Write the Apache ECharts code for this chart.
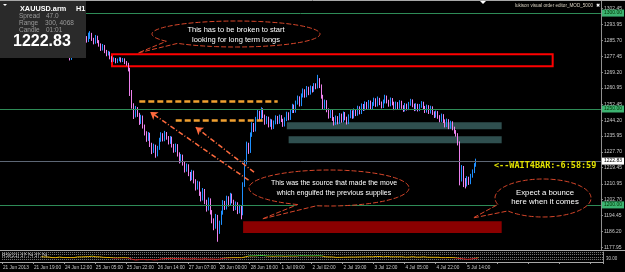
<!DOCTYPE html>
<html>
<head>
<meta charset="utf-8">
<script src="https://cdn.jsdelivr.net/npm/echarts@6/dist/echarts.min.js"></script>
<style>
html,body{margin:0;padding:0;background:#000;}
#main{width:625px;height:272px;}
</style>
</head>
<body>
<div id="main"></div>
<script>
// XAUUSD H1, 21 Jun - 5 Jul 2013
var timeLabels = ['21 Jun 2013','21 Jun 19:00','24 Jun 12:00','25 Jun 05:00','25 Jun 22:00','26 Jun 14:00','27 Jun 07:00','28 Jun 00:00',
    '28 Jun 16:00','1 Jul 09:00','2 Jul 02:00','2 Jul 19:00','3 Jul 12:00','4 Jul 05:00','4 Jul 22:00','5 Jul 14:00'];
var priceTicks = [1302.45,1293.95,1285.70,1277.45,1269.20,1260.95,1252.45,1244.20,1235.95,1227.70,1219.45,1210.95,1202.70,1194.45,1186.20,1177.95];
var levelLines = [1300, 1250, 1200];
var lastPrice = 1222.83;
var firstOpen = 1283.0;

var closes = [
1284.5,1286.0,1285.2,1287.8,1289.0,1288.1,1290.5,1292.0,1291.2,1293.5,
1294.8,1293.0,1295.6,1296.2,1294.1,1292.5,1293.8,1291.0,1289.4,1290.2,
1288.0,1286.5,1287.2,1285.0,1283.1,1284.6,1282.0,1280.4,1281.5,1279.8,
1281.0,1283.2,1282.4,1280.1,1278.5,1279.6,1277.8,1279.0,1276.9,1278.2,
1280.5,1282.9,1284.1,1283.0,1285.6,1284.2,1286.8,1285.5,1287.3,1288.9,
1286.4,1284.8,1287.5,1285.1,1283.6,1281.2,1282.8,1280.0,1278.6,1279.4,
1276.8,1275.2,1276.0,1274.6,1275.5,1276.3,1275.0,1275.8,1274.2,1273.5,
1270.8,1258.5,1252.0,1246.5,1250.2,1247.0,1243.1,1245.8,1241.0,1237.5,
1234.2,1236.8,1231.5,1228.0,1230.6,1226.2,1229.5,1233.8,1236.5,1234.0,
1237.2,1235.1,1232.6,1234.8,1231.0,1228.4,1230.9,1226.5,1223.0,1225.4,
1221.8,1218.2,1220.5,1216.3,1213.8,1217.0,1212.5,1208.9,1211.4,1206.0,
1203.2,1207.5,1201.8,1198.0,1202.6,1196.4,1192.0,1188.5,1194.0,1186.2,
1190.5,1195.8,1201.2,1198.5,1203.6,1200.4,1205.0,1201.9,1198.2,1200.6,
1196.5,1199.0,1195.5,1210.5,1222.0,1231.5,1228.0,1236.4,1241.8,1239.2,
1244.5,1248.2,1245.0,1249.6,1246.3,1243.0,1245.2,1241.6,1243.8,1240.5,
1242.9,1245.6,1243.2,1246.0,1244.1,1241.8,1244.6,1247.5,1245.2,1248.8,
1251.5,1249.0,1253.2,1255.8,1252.4,1256.9,1259.5,1257.0,1260.8,1258.3,
1261.0,1259.6,1262.3,1261.5,1265.8,1262.0,1256.6,1251.0,1253.8,1249.5,
1246.2,1248.9,1245.0,1242.6,1245.5,1243.1,1246.8,1244.0,1247.6,1245.2,
1243.0,1246.1,1248.5,1246.0,1249.2,1247.4,1250.6,1248.3,1251.8,1250.1,
1252.9,1251.0,1253.6,1250.8,1252.5,1254.8,1252.2,1255.0,1253.1,1251.4,
1253.8,1256.2,1254.0,1252.3,1254.9,1253.0,1250.5,1252.8,1251.0,1253.5,
1251.2,1249.6,1252.0,1250.3,1252.6,1254.2,1252.0,1250.0,1251.9,1249.8,
1251.5,1253.0,1250.8,1249.0,1251.2,1248.5,1250.6,1248.0,1246.4,1248.1,
1246.0,1244.2,1246.5,1243.8,1241.5,1243.9,1240.6,1242.8,1240.0,1238.2,
1236.5,1232.0,1214.8,1219.5,1212.6,1210.5,1213.8,1211.6,1215.0,1217.4,
1220.6,1222.83
];
var highs = [
1285.6,1286.9,1287.0,1288.6,1290.1,1290.0,1291.2,1293.1,1292.9,1294.3,
1295.9,1295.5,1296.8,1297.4,1296.9,1294.8,1294.6,1294.3,1291.8,1291.3,
1290.9,1288.7,1288.3,1287.9,1285.7,1285.4,1285.2,1282.7,1282.4,1282.1,
1281.9,1284.0,1284.1,1283.0,1280.9,1280.5,1280.2,1279.9,1279.6,1279.0,
1281.3,1283.8,1285.2,1284.9,1286.5,1286.3,1287.9,1288.0,1289.8,1290.6,
1289.7,1287.1,1288.6,1288.2,1285.9,1284.2,1283.9,1283.4,1280.8,1280.3,
1279.9,1277.5,1276.9,1276.6,1276.3,1277.0,1276.9,1276.6,1276.4,1275.0,
1274.1,1271.5,1259.9,1253.0,1251.6,1251.0,1248.0,1247.0,1246.6,1241.9,
1238.4,1238.0,1237.6,1232.4,1231.9,1231.4,1230.8,1235.0,1237.9,1237.4,
1238.6,1238.0,1235.9,1235.9,1235.6,1231.8,1232.0,1231.7,1227.4,1226.5,
1226.2,1222.7,1221.6,1221.2,1217.2,1218.3,1217.9,1213.4,1212.6,1212.2,
1206.9,1208.8,1208.3,1202.7,1203.9,1203.4,1197.3,1193.0,1195.3,1194.8,
1191.8,1197.0,1202.5,1202.1,1204.8,1204.5,1206.3,1205.9,1202.7,1201.8,
1201.4,1200.1,1199.8,1211.8,1223.5,1233.0,1232.4,1237.8,1243.1,1242.7,
1245.9,1249.6,1249.1,1250.9,1250.4,1247.1,1246.3,1246.0,1244.9,1244.6,
1244.0,1246.7,1246.4,1247.1,1246.8,1244.9,1245.7,1248.6,1248.3,1249.9,
1252.7,1252.3,1254.4,1257.0,1256.6,1258.1,1260.7,1260.3,1262.0,1261.6,
1262.2,1261.9,1263.5,1263.4,1267.8,1266.1,1262.8,1257.4,1254.9,1254.6,
1250.3,1250.0,1249.7,1245.8,1246.6,1246.3,1247.9,1247.6,1248.7,1248.4,
1246.0,1247.2,1249.6,1249.3,1250.3,1250.0,1251.7,1251.4,1252.9,1252.6,
1254.0,1253.7,1254.7,1254.4,1253.6,1255.9,1255.6,1256.5,1255.8,1253.9,
1254.9,1257.4,1257.0,1254.8,1256.0,1255.7,1253.8,1253.9,1253.6,1254.6,
1254.3,1252.0,1253.1,1252.8,1253.7,1255.3,1255.0,1252.8,1253.0,1252.7,
1252.6,1254.1,1253.8,1251.6,1252.3,1252.0,1251.7,1251.4,1248.8,1249.2,
1248.9,1246.8,1247.6,1247.3,1244.6,1245.0,1244.7,1243.9,1243.6,1240.8,
1239.0,1237.4,1233.1,1220.8,1220.3,1214.0,1215.0,1214.7,1216.2,1218.5,
1221.8,1224.1
];
var lows = [
1282.1,1283.8,1284.4,1284.7,1287.0,1287.2,1287.6,1289.8,1290.4,1290.6,
1292.8,1292.1,1292.4,1294.9,1293.2,1291.6,1291.7,1290.2,1288.5,1288.7,
1287.1,1285.6,1285.9,1284.1,1282.3,1282.5,1281.1,1279.5,1279.8,1278.9,
1279.0,1280.5,1281.6,1279.3,1277.6,1277.8,1276.9,1277.0,1275.3,1275.6,
1277.5,1279.9,1282.2,1282.1,1282.4,1283.4,1283.6,1284.6,1284.9,1286.5,
1285.5,1283.7,1284.0,1284.3,1282.5,1280.3,1280.5,1279.1,1277.5,1277.9,
1275.9,1274.4,1274.6,1273.8,1274.0,1274.9,1274.3,1274.5,1273.4,1272.6,
1269.6,1256.8,1250.2,1244.8,1245.6,1245.9,1241.7,1242.2,1239.8,1236.2,
1232.9,1233.4,1230.2,1226.5,1227.1,1224.6,1225.3,1228.7,1232.9,1233.1,
1233.2,1234.0,1231.5,1231.8,1229.9,1227.2,1227.5,1225.2,1221.6,1222.1,
1220.5,1216.9,1217.3,1215.0,1212.4,1212.9,1211.2,1207.5,1208.0,1204.7,
1201.8,1202.3,1200.4,1196.5,1197.1,1195.0,1190.4,1186.8,1187.6,1180.8,
1184.9,1189.6,1194.9,1197.4,1197.6,1199.2,1199.5,1200.8,1196.9,1197.3,
1195.2,1195.6,1192.5,1194.6,1209.4,1221.1,1226.6,1227.1,1235.5,1238.0,
1238.3,1243.6,1243.9,1244.1,1245.2,1241.8,1242.1,1240.4,1240.7,1239.3,
1239.6,1242.0,1242.1,1242.3,1243.2,1240.7,1240.9,1243.7,1244.1,1244.3,
1247.9,1247.9,1248.1,1252.3,1251.3,1251.5,1256.0,1255.9,1256.1,1257.2,
1257.5,1258.6,1258.9,1260.3,1260.7,1260.9,1255.4,1250.0,1250.1,1248.3,
1245.0,1245.3,1243.8,1241.4,1241.7,1242.0,1242.2,1242.9,1243.1,1244.1,
1241.9,1242.1,1245.2,1244.9,1245.1,1246.3,1246.5,1247.2,1247.4,1249.0,
1249.2,1249.9,1250.1,1249.7,1249.9,1251.6,1251.1,1251.3,1252.0,1250.3,
1250.5,1252.9,1252.9,1251.2,1251.4,1251.9,1249.4,1249.6,1249.9,1250.1,
1250.1,1248.5,1248.7,1249.2,1249.4,1251.7,1250.9,1248.9,1249.1,1248.7,
1248.9,1250.6,1249.7,1247.9,1248.1,1247.4,1247.6,1246.9,1245.3,1245.5,
1244.9,1243.1,1243.3,1242.7,1240.4,1240.6,1239.5,1239.7,1238.9,1237.1,
1235.6,1231.0,1210.2,1212.2,1209.3,1208.6,1209.6,1210.4,1210.8,1214.2,
1216.6,1219.9
];
var slotCount = 330;

var categories = [];
for (var s = 0; s < slotCount; s++) categories.push(s);

var candles = [];
for (var i = 0; i < closes.length; i++) {
    var open = i === 0 ? firstOpen : closes[i - 1];
    candles.push([open, closes[i], lows[i], highs[i]]);
}

// RSI(21) of the closes, Wilder smoothing
function calcRsi(cl, period) {
    var out = [], g = 0, l = 0;
    for (var k = 0; k < cl.length; k++) {
        if (k === 0) { out.push('-'); continue; }
        var d = cl[k] - cl[k - 1];
        var up = d > 0 ? d : 0, dn = d < 0 ? -d : 0;
        if (k <= period) {
            g += up; l += dn;
            if (k === period) { g /= period; l /= period; out.push(100 - 100 / (1 + g / (l || 1e-9))); }
            else out.push('-');
        } else {
            g = (g * (period - 1) + up) / period;
            l = (l * (period - 1) + dn) / period;
            out.push(100 - 100 / (1 + g / (l || 1e-9)));
        }
    }
    return out;
}
var rsiValues = calcRsi(closes, 21);

var font = '"Liberation Sans", Arial, sans-serif';

// speech bubble outline: ellipse with a wedge tail
function bubble(cx, cy, rx, ry, a1, a2, tip) {
    var pts = [];
    var start = a2 * Math.PI / 180, end = (a1 + 360) * Math.PI / 180;
    for (var t = start; t <= end; t += 0.05) {
        pts.push([cx + rx * Math.cos(t), cy + ry * Math.sin(t)]);
    }
    pts.push([cx + rx * Math.cos(end), cy + ry * Math.sin(end)]);
    pts.push(tip);
    return {
        type: 'polygon', z: 50,
        shape: { points: pts },
        style: { fill: '#000', stroke: '#d9472b', lineWidth: 1, lineDash: [5, 2] }
    };
}
function label(x, y, txt, size, color, weight, align, fam) {
    return {
        type: 'text', z: 60, x: x, y: y,
        style: {
            text: txt, fill: color, font: (weight || 'normal') + ' ' + size + 'px ' + (fam || font),
            align: align || 'left', textAlign: align || 'left', verticalAlign: 'middle', textVerticalAlign: 'middle'
        }
    };
}

var myChart = echarts.init(document.getElementById('main'));

var levelData = levelLines.map(function (v) {
    return {
        yAxis: v,
        lineStyle: { color: '#2e8b57', width: 1, type: 'solid' },
        label: { show: true, position: 'end', formatter: v.toFixed(2), backgroundColor: '#3cb371',
            color: '#003300', fontSize: 5, padding: [1, 2], distance: 1, fontFamily: font }
    };
});
levelData.push({
    yAxis: lastPrice,
    lineStyle: { color: '#5d6775', width: 1, type: 'solid' },
    label: { show: true, position: 'end', formatter: lastPrice.toFixed(2), backgroundColor: '#ffffff',
        color: '#000', fontSize: 5, padding: [1, 2], distance: 1, fontFamily: font }
});

var option = {
    backgroundColor: '#000',
    animation: false,
    grid: [
        { left: 0, top: 1, width: 603, height: 249 },
        { left: 0, top: 252, width: 603, height: 10 }
    ],
    xAxis: [
        { type: 'category', gridIndex: 0, data: categories, axisLine: { show: false },
          axisTick: { show: false }, axisLabel: { show: false }, splitLine: { show: false } },
        { type: 'category', gridIndex: 1, data: categories, axisLine: { show: false },
          axisTick: { show: true, interval: 16, length: 2, lineStyle: { color: '#a0a0a0' } },
          axisLabel: { interval: 16, fontSize: 4.7, color: '#c8c8c8', margin: 3, align: 'left', fontFamily: font,
              formatter: function (v, idx) { return timeLabels[idx / 17] || ''; } },
          splitLine: { show: false } }
    ],
    yAxis: [
        { type: 'value', gridIndex: 0, position: 'right', min: 1176.5, max: 1306.3,
          axisLine: { show: true, lineStyle: { color: '#909090' } },
          axisTick: { show: true, customValues: priceTicks, length: 2, lineStyle: { color: '#909090' } },
          axisLabel: { customValues: priceTicks, fontSize: 5, color: '#c8c8c8', margin: 3, fontFamily: font,
              formatter: function (v) { return v.toFixed(2); } },
          splitLine: { show: false } },
        { type: 'value', gridIndex: 1, position: 'right', min: 0, max: 100, interval: 25,
          axisLine: { show: true, lineStyle: { color: '#909090' } },
          axisTick: { show: false },
          axisLabel: { customValues: [70, 30], fontSize: 4.5, color: '#c8c8c8', margin: 3, fontFamily: font,
              formatter: function (v) { return v.toFixed(2); } },
          splitLine: { show: true, lineStyle: { color: '#7a7a7a', type: 'dotted' } } }
    ],
    visualMap: {
        show: false, seriesIndex: 3, dimension: 1,
        pieces: [
            { lt: 40, color: '#d42020' },
            { gte: 40, lt: 60, color: '#e0b000' },
            { gte: 60, color: '#3cc83c' }
        ]
    },
    series: [
        {   // background objects
            type: 'line', xAxisIndex: 0, yAxisIndex: 0, data: [], z: 1, silent: true,
            markArea: {
                silent: true,
                data: [
                    [{ xAxis: 157, yAxis: 1243.1, itemStyle: { color: '#2f4f4f' } }, { xAxis: 275, yAxis: 1239.5 }],
                    [{ xAxis: 158, yAxis: 1235.8, itemStyle: { color: '#2f4f4f' } }, { xAxis: 275, yAxis: 1232.2 }],
                    [{ xAxis: 133, yAxis: 1191.5, itemStyle: { color: '#8b0000' } }, { xAxis: 275, yAxis: 1185.3 }]
                ]
            },
            markLine: { silent: true, symbol: 'none', animation: false, data: levelData }
        },
        {
            type: 'candlestick', xAxisIndex: 0, yAxisIndex: 0, data: candles, z: 2, barWidth: 1,
            itemStyle: { color: '#1e90ff', color0: '#ee82ee', borderColor: '#1e90ff', borderColor0: '#ee82ee', borderWidth: 1 }
        },
        {   // drawn objects on top
            type: 'line', xAxisIndex: 0, yAxisIndex: 0, data: [], z: 5, silent: true,
            markArea: {
                silent: true,
                data: [
                    [{ xAxis: 61, yAxis: 1278.6, itemStyle: { color: 'rgba(0,0,0,0)', borderColor: '#ff0000', borderWidth: 2 } },
                     { xAxis: 303, yAxis: 1272.3 }]
                ]
            },
            markLine: {
                silent: true, symbol: 'none', animation: false,
                label: { show: false },
                data: [
                    [{ coord: [76, 1254.1], lineStyle: { color: '#f0a030', width: 2.5, type: [6, 3] } }, { coord: [152, 1254.1] }],
                    [{ coord: [96, 1244.1], lineStyle: { color: '#f0a030', width: 2.5, type: [6, 3] } }, { coord: [144, 1244.1] }],
                    [{ coord: [136, 1212.9], symbol: 'none', lineStyle: { color: '#ff6a3d', width: 1.5, type: [5, 2, 1, 2] } },
                     { coord: [82, 1248.4], symbol: 'arrow', symbolSize: 7 }],
                    [{ coord: [139, 1217.1], symbol: 'none', lineStyle: { color: '#ff6a3d', width: 1.5, type: [5, 2, 1, 2] } },
                     { coord: [107, 1240.5], symbol: 'arrow', symbolSize: 7 }]
                ]
            }
        },
        {
            type: 'line', xAxisIndex: 1, yAxisIndex: 1, data: rsiValues, symbol: 'none',
            lineStyle: { width: 1 }
        }
    ],
    graphic: [
        { type: 'line', z: 40, shape: { x1: 0, y1: 0.5, x2: 625, y2: 0.5 }, style: { stroke: '#a8a8a8', lineWidth: 1 } },
        { type: 'line', z: 40, shape: { x1: 0, y1: 250.5, x2: 625, y2: 250.5 }, style: { stroke: '#a8a8a8', lineWidth: 1 } },
        { type: 'line', z: 40, shape: { x1: 0, y1: 262.5, x2: 603, y2: 262.5 }, style: { stroke: '#a8a8a8', lineWidth: 1 } },
        { type: 'polygon', z: 40, shape: { points: [[480, 1], [486, 1], [483, 4]] }, style: { fill: '#ffffff' } },
        label(593, 6, 'lukison visual order editor_MOD_5000', 4.6, '#d8d0c0', 'normal', 'right'),
        label(598, 6, '✖', 5, '#ffffff', 'normal', 'center'),
        // info panel
        { type: 'rect', z: 55, shape: { x: 0, y: 1, width: 86, height: 57 }, style: { fill: '#2a2a2a' } },
        { type: 'polygon', z: 60, shape: { points: [[3, 4], [7, 4], [5, 6]] }, style: { fill: '#ffffff' } },
        label(20, 8.5, 'XAUUSD.arm', 7.3, '#ffffff', 'bold'),
        label(76, 8.5, 'H1', 7.3, '#ffffff', 'bold'),
        label(19, 16, 'Spread', 6.5, '#9a9a9a'),
        label(46, 16, '47.0', 6.5, '#9a9a9a'),
        label(19, 23, 'Range', 6.5, '#9a9a9a'),
        label(45, 23, '300, 4068', 6.5, '#9a9a9a'),
        label(19, 30, 'Candle', 6.5, '#9a9a9a'),
        label(46, 30, '01:01', 6.5, '#9a9a9a'),
        label(13, 41.5, '1222.83', 16, '#ffffff', 'bold'),
        // callouts
        bubble(236, 34, 84, 13, 134, 146, [138, 53]),
        label(236, 30, 'This has to be broken to start', 7.5, '#ffffff', 'normal', 'center'),
        label(236, 39.5, 'looking for long term longs', 7.5, '#ffffff', 'normal', 'center'),
        bubble(329, 188, 80, 18, 99, 113, [262, 219]),
        label(334, 183, 'This was the source that made the move', 7, '#ffffff', 'normal', 'center'),
        label(334, 193, 'which engulfed the previous supplies', 7, '#ffffff', 'normal', 'center'),
        bubble(543, 198, 48, 19, 137, 160, [473, 218]),
        label(545, 193, 'Expect a bounce', 7.8, '#ffffff', 'normal', 'center'),
        label(545, 202, 'here when it comes', 7.8, '#ffffff', 'normal', 'center'),
        label(494, 166, '<--WAIT4BAR:-6:58:59', 8.5, '#e2e200', 'bold', 'left', '"DejaVu Sans Mono", monospace'),
        label(2, 255.5, 'RSI(21) 37.74 37.74', 5, '#c8c8c8')
    ]
};
myChart.setOption(option);
</script>
</body>
</html>
